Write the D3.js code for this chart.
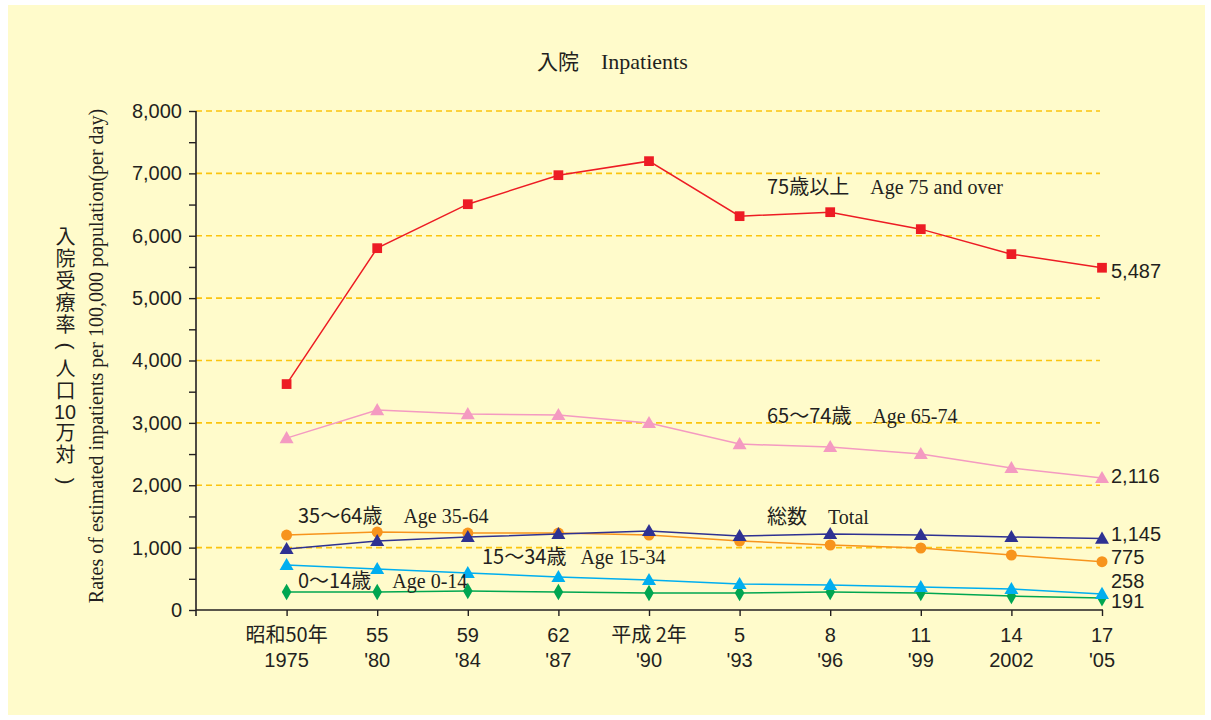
<!DOCTYPE html>
<html>
<head>
<meta charset="utf-8">
<script src="https://cdn.jsdelivr.net/npm/d3@7"></script>
<style>
  body { margin: 0; background: #ffffff; }
  #chart { position: relative; width: 1211px; height: 720px; }
  svg text { fill: #231f20; }
  .vtitle {
    position: absolute;
    writing-mode: vertical-rl;
    text-orientation: mixed;
    font-family: 'Noto Sans CJK JP', sans-serif;
    font-size: 20px;
    line-height: 20px;
    letter-spacing: 2px;
    color: #231f20;
    white-space: nowrap;
  }
  .vtitle .tcy { text-combine-upright: all; font-family: 'Liberation Sans', Arial, sans-serif; }
</style>
</head>
<body>
<div id="chart"></div>
<script>
// setup
var w = 1211;
var h = 720;

// data
var years = ["1975", "'80", "'84", "'87", "'90", "'93", "'96", "'99", "2002", "'05"];
var eras = ["昭和50年", "55", "59", "62", "平成 2年", "5", "8", "11", "14", "17"];
var age75 = [3622, 5801, 6506, 6971, 7196, 6314, 6378, 6106, 5705, 5487];
var age65 = [2756, 3205, 3141, 3125, 2997, 2660, 2612, 2500, 2276, 2116];
var total = [978, 1106, 1170, 1218, 1266, 1186, 1218, 1202, 1170, 1145];
var age35 = [1202, 1250, 1234, 1234, 1202, 1106, 1042, 994, 881, 775];
var age15 = [721, 657, 593, 529, 481, 417, 401, 369, 337, 258];
var age0 = [288, 288, 304, 288, 272, 272, 288, 272, 224, 191];
var yTicks = [0, 1000, 2000, 3000, 4000, 5000, 6000, 7000, 8000];

var series = [
  {name: "age65", values: age65, color: "#f49ac1", symbol: d3.symbolTriangle, size: 85},
  {name: "age0", values: age0, color: "#00a651", symbol: d3.symbolDiamond, size: 80},
  {name: "age15", values: age15, color: "#00aeef", symbol: d3.symbolTriangle, size: 85},
  {name: "age35", values: age35, color: "#f7941d", symbol: d3.symbolCircle, size: 95},
  {name: "total", values: total, color: "#2e3192", symbol: d3.symbolTriangle, size: 85},
  {name: "age75", values: age75, color: "#ed1c24", symbol: d3.symbolSquare, size: 95}
];

var chart = d3.select("#chart");
var svg = chart.append("svg")
  .attr("width", w).attr("height", h)
  .style("position", "absolute").style("left", 0).style("top", 0);

// panel
svg.append("rect")
  .attr("x", 8).attr("y", 5).attr("width", 1197).attr("height", 710)
  .attr("fill", "#fffbcb");

var x = d3.scaleLinear().domain([-1, years.length - 1]).range([196, 1102]);
var y = d3.scaleLinear().domain([0, 8000]).range([610, 111]);

var jp = "'Noto Sans CJK JP', 'Liberation Sans', sans-serif";
var en = "'Liberation Serif', 'Times New Roman', serif";
var num = "'Liberation Sans', Arial, sans-serif";

// gridlines
svg.append("g")
  .selectAll("line")
  .data(yTicks.filter(function(d){ return d > 0; }))
  .enter().append("line")
    .attr("x1", 196).attr("x2", 1100)
    .attr("y1", function(d){ return y(d); })
    .attr("y2", function(d){ return y(d); })
    .attr("stroke", "#fbc40f")
    .attr("stroke-width", 1.6)
    .attr("stroke-dasharray", "6,4");

// y axis
var yAxis = svg.append("g")
  .attr("transform", "translate(196,0)")
  .call(d3.axisLeft(y).ticks(16).tickSize(7).tickPadding(5)
    .tickFormat(function(d){ return d % 1000 === 0 ? d3.format(",")(d) : ""; }));
yAxis.select(".domain").attr("stroke", "#231f20").attr("stroke-width", 1.6)
  .attr("d", "M0,111V616");
yAxis.selectAll(".tick line").attr("stroke", "#231f20").attr("stroke-width", 1.4);
yAxis.selectAll(".tick text")
  .style("font-family", num).style("font-size", "20px").attr("fill", "#231f20")
  .attr("x", -14);

// x axis
var xAxis = svg.append("g")
  .attr("transform", "translate(0,610)")
  .call(d3.axisBottom(x).tickValues(d3.range(years.length)).tickSize(6).tickFormat(""));
xAxis.select(".domain").attr("stroke", "#231f20").attr("stroke-width", 1.6)
  .attr("d", "M196,0H1103");
xAxis.selectAll(".tick line").attr("stroke", "#231f20").attr("stroke-width", 1.4);

var xl = svg.append("g").selectAll("text")
  .data(years)
  .enter().append("text")
    .attr("text-anchor", "middle")
    .style("font-family", num).style("font-size", "20px")
    .attr("transform", function(d, i){ return "translate(" + x(i) + ",0)"; });
xl.append("tspan").attr("x", 0).attr("y", 642)
  .style("font-family", function(d, i){ return /[^\x00-\x7f]/.test(eras[i]) ? jp : num; })
  .text(function(d, i){ return eras[i]; });
xl.append("tspan").attr("x", 0).attr("y", 667).text(function(d){ return d; });

// lines
var line = d3.line()
  .x(function(d, i){ return x(i); })
  .y(function(d){ return y(d); });

var g = svg.append("g")
  .selectAll("g")
  .data(series)
  .enter().append("g");

g.append("path")
  .attr("d", function(d){ return line(d.values); })
  .attr("fill", "none")
  .attr("stroke", function(d){ return d.color; })
  .attr("stroke-width", 1.5);

g.each(function(s){
  d3.select(this).selectAll("path.pt")
    .data(s.values)
    .enter().append("path")
      .attr("class", "pt")
      .attr("d", d3.symbol().type(s.symbol).size(s.size))
      .attr("transform", function(d, i){
        var dy = s.symbol === d3.symbolTriangle ? 1 : 0;
        return "translate(" + x(i) + "," + (y(d) + dy) + ")";
      })
      .attr("fill", s.color);
});

// end value labels
var endNudge = {age75: 3, age65: -2, total: -5, age35: -5, age15: -13, age0: 3};
svg.append("g")
  .selectAll("text")
  .data(series)
  .enter().append("text")
    .attr("x", 1111)
    .attr("y", function(d){ return y(d.values[d.values.length - 1]) + 7 + endNudge[d.name]; })
    .style("font-family", num).style("font-size", "20px")
    .text(function(d){ return d3.format(",")(d.values[d.values.length - 1]); });

// series labels
var labels = [
  {jp: "75歳以上", en: "Age 75 and over", x: 767, y: 194},
  {jp: "65〜74歳", en: "Age 65-74", x: 767, y: 423},
  {jp: "総数", en: "Total", x: 767, y: 524},
  {jp: "35〜64歳", en: "Age 35-64", x: 298, y: 523},
  {jp: "15〜34歳", en: "Age 15-34", x: 482, y: 564, gap: 14},
  {jp: "0〜14歳", en: "Age 0-14", x: 298, y: 588}
];
var lt = svg.append("g").selectAll("text")
  .data(labels)
  .enter().append("text")
    .attr("x", function(d){ return d.x; })
    .attr("y", function(d){ return d.y; });
lt.append("tspan").style("font-family", jp).style("font-size", "20px")
  .text(function(d){ return d.jp; });
lt.append("tspan").attr("dx", function(d){ return d.gap || 21; })
  .style("font-family", en).style("font-size", "20px")
  .text(function(d){ return d.en; });

// title
var title = svg.append("text").attr("x", 537).attr("y", 69);
title.append("tspan").style("font-family", jp).style("font-size", "21px").text("入院");
title.append("tspan").attr("dx", 22).style("font-family", en).style("font-size", "22px").text("Inpatients");

// y titles (vertical Japanese, parentheses drawn turned)
chart.append("div").attr("class", "vtitle")
  .style("left", "55px").style("top", "226px")
  .text("入院受療率");
var vt = chart.append("div").attr("class", "vtitle")
  .style("left", "55px").style("top", "358px");
vt.append("span").text("人口");
vt.append("span").attr("class", "tcy").text("10");
vt.append("span").text("万対");

svg.append("g").selectAll("text")
  .data([{t: "(", y: 346}, {t: ")", y: 481}])
  .enter().append("text")
    .attr("transform", function(d){ return "translate(65," + d.y + ") rotate(90)"; })
    .attr("text-anchor", "middle")
    .attr("dy", "0.3em")
    .style("font-family", num).style("font-size", "21px")
    .text(function(d){ return d.t; });

svg.append("text")
  .attr("transform", "translate(103,356) rotate(-90)")
  .attr("text-anchor", "middle")
  .style("font-family", en).style("font-size", "20px")
  .text("Rates of estimated inpatients per 100,000 population(per day)");
</script>
</body>
</html>
